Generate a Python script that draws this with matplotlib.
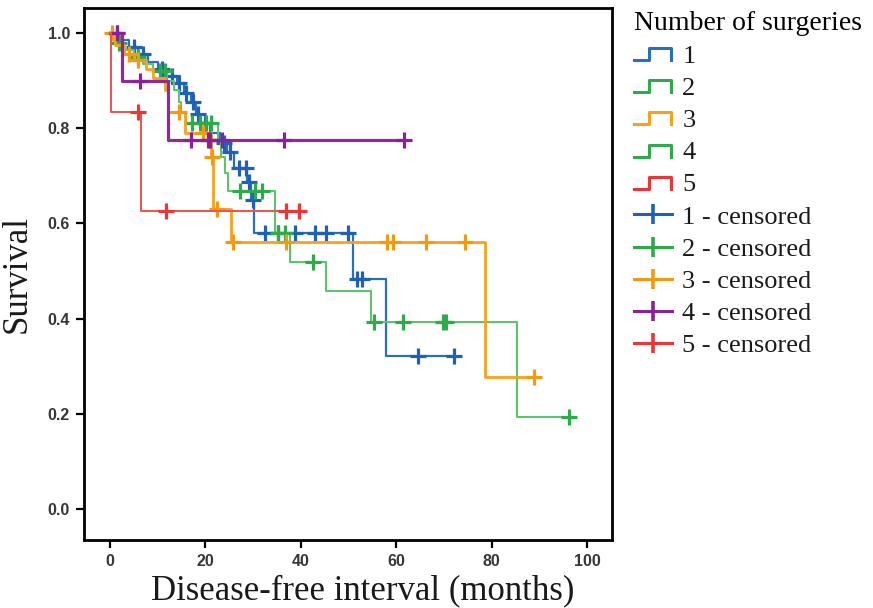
import numpy as np
import matplotlib
matplotlib.use("Agg")
import matplotlib.pyplot as plt
from matplotlib.lines import Line2D
from matplotlib.legend_handler import HandlerBase

# Kaplan-Meier steps (months, survival), one group per number of surgeries
t1 = [0, 2, 4, 6, 8, 10, 12, 14, 15.5, 17, 18, 19, 21, 23, 24.5, 26, 28.8, 29.6, 30.3, 51, 57.9, 72.2]
s1 = [1.0, 0.985, 0.97, 0.955, 0.94, 0.925, 0.91, 0.895, 0.875, 0.855, 0.83, 0.81, 0.79, 0.77, 0.75,
      0.716, 0.687, 0.649, 0.58, 0.483, 0.321, 0.321]
c1 = [1.5, 5, 7, 11, 13, 14.5, 16, 17.5, 18.5, 20, 24, 25.1, 27, 28.6, 29.2, 29.9,
      32.6, 35.2, 38.7, 42.9, 45.4, 49.8, 51.7, 52.9, 64.6, 72.2]

t2 = [0, 1, 3, 5, 7, 9, 12, 13.5, 14.5, 15, 16, 22.6, 23.3, 24.2, 24.8, 34.7, 37.8, 45.4, 54.8, 85.4, 96.2]
s2 = [1.0, 0.98, 0.965, 0.95, 0.935, 0.92, 0.9, 0.88, 0.855, 0.835, 0.81, 0.775, 0.74, 0.706, 0.668,
      0.58, 0.52, 0.458, 0.393, 0.193, 0.193]
c2 = [2, 6, 10.5, 11.5, 17.2, 18.8, 20.1, 21.3, 27.2, 30.5, 31.8, 35.2, 36.8, 42.5,
      55.4, 61.5, 69.7, 70.5, 96.2]

t3 = [0, 1.2, 3.0, 5.0, 7.5, 9.0, 11.5, 12.2, 15.7, 21.3, 21.7, 25.5, 78.7, 88.9]
s3 = [1.0, 0.975, 0.955, 0.943, 0.925, 0.905, 0.88, 0.834, 0.79, 0.74, 0.63, 0.56, 0.277, 0.277]
c3 = [0.5, 4.0, 6.0, 14.5, 19.5, 21.5, 22.4, 25.8, 37, 58, 59.4, 66.3, 74.5, 88.9]

t4 = [0, 2.5, 12.1, 61.7]
s4 = [1.0, 0.9, 0.775, 0.775]
c4 = [1.5, 6.3, 17, 20.5, 21.1, 23.6, 36.6, 61.7]

t5 = [0, 0.3, 6.5, 39.7]
s5 = [1.0, 0.834, 0.626, 0.626]
c5 = [5.9, 11.7, 37, 39.7]

groups = ["1", "2", "3", "4", "5"]
line_colors = ["#2a6fbe", "#5cc46c", "#f9a11b", "#8e2a9c", "#f25050"]
mark_colors = ["#1f62b5", "#2eaa4a", "#f59a10", "#8a2198", "#ee3535"]
legend_step_colors = ["#2a6fbe", "#2eaa4a", "#f9a11b", "#2eaa4a", "#ee3535"]
line_widths = [1.6, 1.5, 2.0, 2.3, 1.4]

curves = [(t1, s1, c1), (t2, s2, c2), (t3, s3, c3), (t4, s4, c4), (t5, s5, c5)]


def surv_at(t, s, x):
    # survival of the step curve at censoring time x
    idx = np.searchsorted(np.array(t), np.array(x), side="right") - 1
    return np.array(s)[idx]


fig = plt.figure(figsize=(8.73, 6.08), dpi=100)
ax = fig.add_axes([0.0962, 0.1118, 0.6048, 0.875])

for (t, s, c), lc, mc, lw in zip(curves, line_colors, mark_colors, line_widths):
    ax.step(t, s, where="post", color=lc, lw=lw)
    ax.plot(c, surv_at(t, s, c), linestyle="none", marker="+", markersize=11,
            markeredgewidth=2.3, color=mc)

ax.set_xlim(-5.4, 105.2)
ax.set_ylim(-0.065, 1.0525)
ax.set_xticks([0, 20, 40, 60, 80, 100])
ax.set_yticks([0.0, 0.2, 0.4, 0.6, 0.8, 1.0])
ax.set_yticklabels(["0.0", "0.2", "0.4", "0.6", "0.8", "1.0"])
for sp in ax.spines.values():
    sp.set_linewidth(2)
ax.tick_params(length=6, width=1.6, pad=4, labelsize=11.5, labelcolor="#3a3636")
for lab in ax.get_xticklabels() + ax.get_yticklabels():
    lab.set_fontfamily("Liberation Sans")
    lab.set_fontweight("bold")

serif = "Liberation Serif"
ax.set_xlabel("Disease-free interval (months)", family=serif, fontsize=25, color="#1a1a1a", labelpad=4)
ax.xaxis.label.set_x(0.527)
ax.set_ylabel("Survival", family=serif, fontsize=25, color="#1a1a1a", labelpad=10)


class StepHandler(HandlerBase):
    def create_artists(self, legend, orig_handle, xdescent, ydescent, width, height, fontsize, trans):
        xs = np.array([0.0, 0.4, 0.4, 0.97, 0.97]) * width - xdescent
        ys = np.array([0.15, 0.15, 0.8, 0.8, 0.15]) * height - ydescent
        return [Line2D(xs, ys, color=orig_handle.get_color(), lw=2.2, transform=trans)]


handles = [Line2D([], [], color=c) for c in legend_step_colors]
handles += [Line2D([0], [0], color=c, lw=2.2, marker="|", markersize=14, markeredgewidth=2.6)
            for c in mark_colors]
labels = groups + [g + " - censored" for g in groups]
handler_map = {h: StepHandler() for h in handles[:5]}

leg = fig.legend(handles, labels, title="Number of surgeries", loc="upper left",
                 bbox_to_anchor=(0.7045, 1.013), frameon=False, handler_map=handler_map,
                 prop={"family": serif, "size": 19}, title_fontproperties={"family": serif, "size": 20},
                 handlelength=1.45, handletextpad=0.4, labelspacing=0.33, alignment="left",
                 borderpad=0.2, numpoints=1)
for txt in leg.get_texts():
    txt.set_color("#1a1a1a")

fig.savefig("out.png", dpi=100)
